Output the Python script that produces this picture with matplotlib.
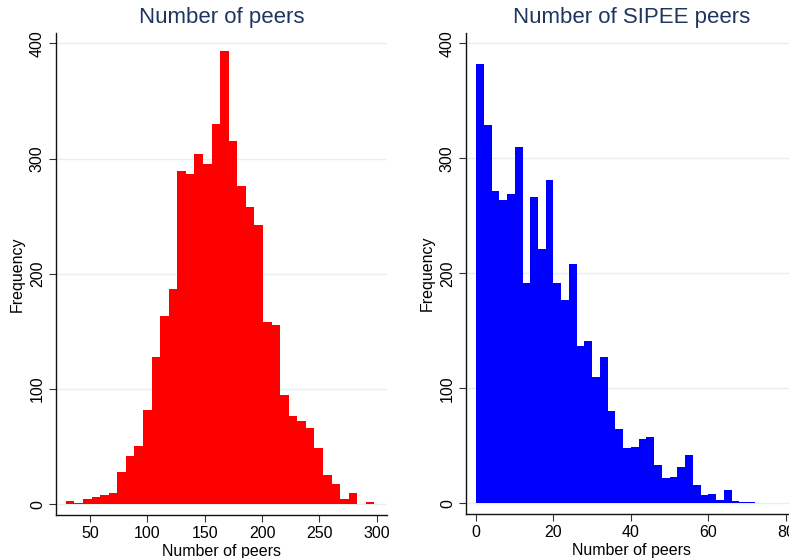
import numpy as np
import matplotlib
matplotlib.use("Agg")
import matplotlib.pyplot as plt

plt.rcParams['font.family'] = ['Liberation Sans', 'DejaVu Sans']

# Panel 1: number of peers (36 bins between min and max)
peers_min, peers_max = 29, 298
peers_counts = [3, 1, 5, 6, 8, 10, 28, 42, 51, 82, 128, 163, 187, 289, 287, 304,
                295, 330, 393, 315, 276, 258, 242, 158, 156, 95, 77, 72, 66, 49,
                25, 18, 5, 10, 0, 2]
peers_xticks = [50, 100, 150, 200, 250, 300]

# Panel 2: number of SIPEE peers (bins of width 2 from 0 to 72)
sipee_min, sipee_max = 0, 72
sipee_counts = [382, 329, 272, 264, 269, 310, 192, 266, 221, 281, 192, 177, 208,
                137, 141, 110, 127, 80, 65, 48, 49, 56, 58, 33, 22, 23, 32, 42,
                16, 7, 8, 3, 12, 2, 1, 1]
sipee_xticks = [0, 20, 40, 60, 80]

yticks = [0, 100, 200, 300, 400]

TITLE_COLOR = '#1e3560'
GRID_COLOR = '#e6eef0'

fig = plt.figure(figsize=(7.89, 5.58), dpi=100)
ax1 = fig.add_axes([56 / 789, 43 / 558, 331 / 789, 482 / 558])
ax2 = fig.add_axes([466 / 789, 44 / 558, 331 / 789, 481 / 558])


def draw_hist(ax, counts, lo, hi, color, title, xticks, xlim):
    edges = np.linspace(lo, hi, len(counts) + 1)
    ax.bar(edges[:-1], counts, width=np.diff(edges), align='edge',
           color=color, edgecolor='none', zorder=2)
    ax.set_xlim(*xlim)
    ax.set_ylim(-9.3, 409)
    ax.set_yticks(yticks)
    ax.set_xticks(xticks)
    ax.grid(axis='y', color=GRID_COLOR, linewidth=1.0, zorder=0)
    ax.set_axisbelow(True)
    for side in ('top', 'right'):
        ax.spines[side].set_visible(False)
    for side in ('left', 'bottom'):
        ax.spines[side].set_linewidth(1.0)
        ax.spines[side].set_color('#111111')
    ax.tick_params(axis='both', length=5, width=0.8, labelsize=11.5,
                   color='#333333', pad=3)
    for lab in ax.get_yticklabels():
        lab.set_rotation(90)
        lab.set_va('center')
        lab.set_ha('right')
    ax.set_title(title, fontsize=16, color=TITLE_COLOR, pad=7)
    ax.set_xlabel('Number of peers', fontsize=11.5, labelpad=2)
    ax.set_ylabel('Frequency', fontsize=11.5, labelpad=4)


draw_hist(ax1, peers_counts, peers_min, peers_max, '#ff0000',
          'Number of peers', peers_xticks, (20.4, 308.9))
draw_hist(ax2, sipee_counts, sipee_min, sipee_max, '#0000ff',
          'Number of SIPEE peers', sipee_xticks, (-2.6, 82.9))

fig.savefig('out.png', dpi=100)
